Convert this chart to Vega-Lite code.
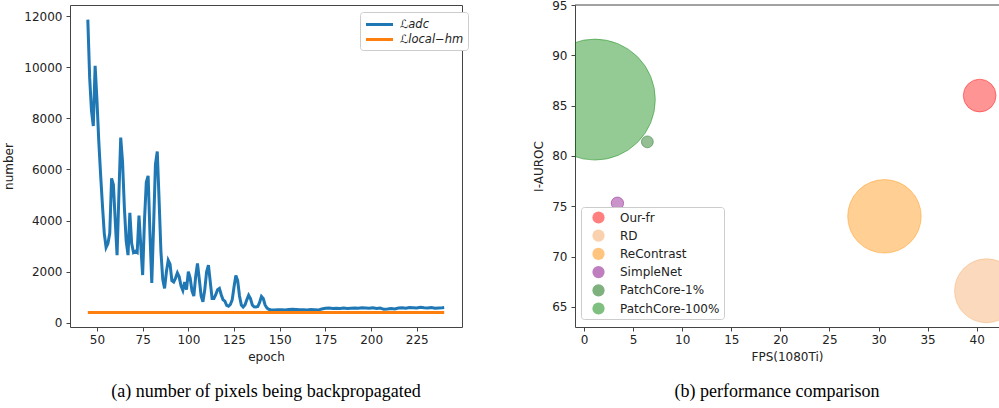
{
  "$schema": "https://vega.github.io/schema/vega-lite/v6.json",
  "background": "white",
  "padding": {"left": 2, "top": -1, "right": 0, "bottom": 0},
  "spacing": 69,
  "config": {
    "view": {"stroke": "#444", "strokeWidth": 1},
    "axis": {"grid": false, "domain": false, "tickColor": "#444", "tickSize": 4, "labelFont": "DejaVu Sans", "labelFontSize": 12, "labelColor": "#222", "titleFont": "DejaVu Sans", "titleFontSize": 12, "titleFontWeight": "normal", "titleColor": "#222", "labelPadding": 3},
    "legend": {"labelFont": "DejaVu Sans", "labelFontSize": 12, "labelColor": "#222"},
    "title": {"font": "Liberation Serif", "fontSize": 18, "fontWeight": "normal", "color": "black"}
  },
  "hconcat": [
    {
      "width": 392,
      "height": 322,
      "title": {"text": "(a) number of pixels being backpropagated", "orient": "bottom", "offset": 21},
      "data": {"values": [
        {"epoch": 45, "adc": 11860, "local_hm": 410},
        {"epoch": 46, "adc": 9600, "local_hm": 410},
        {"epoch": 47, "adc": 8300, "local_hm": 410},
        {"epoch": 48, "adc": 7700, "local_hm": 410},
        {"epoch": 49, "adc": 10050, "local_hm": 410},
        {"epoch": 50, "adc": 8700, "local_hm": 410},
        {"epoch": 51, "adc": 7100, "local_hm": 410},
        {"epoch": 52, "adc": 5800, "local_hm": 410},
        {"epoch": 53, "adc": 4600, "local_hm": 410},
        {"epoch": 54, "adc": 3500, "local_hm": 410},
        {"epoch": 55, "adc": 2950, "local_hm": 410},
        {"epoch": 56, "adc": 3100, "local_hm": 410},
        {"epoch": 57, "adc": 3500, "local_hm": 410},
        {"epoch": 58, "adc": 5650, "local_hm": 410},
        {"epoch": 59, "adc": 5400, "local_hm": 410},
        {"epoch": 60, "adc": 4000, "local_hm": 410},
        {"epoch": 61, "adc": 2650, "local_hm": 410},
        {"epoch": 62, "adc": 5000, "local_hm": 410},
        {"epoch": 63, "adc": 7250, "local_hm": 410},
        {"epoch": 64, "adc": 6300, "local_hm": 410},
        {"epoch": 65, "adc": 4500, "local_hm": 410},
        {"epoch": 66, "adc": 3200, "local_hm": 410},
        {"epoch": 67, "adc": 2650, "local_hm": 410},
        {"epoch": 68, "adc": 4300, "local_hm": 410},
        {"epoch": 69, "adc": 3100, "local_hm": 410},
        {"epoch": 70, "adc": 2750, "local_hm": 410},
        {"epoch": 71, "adc": 2800, "local_hm": 410},
        {"epoch": 72, "adc": 2750, "local_hm": 410},
        {"epoch": 73, "adc": 4200, "local_hm": 410},
        {"epoch": 74, "adc": 3000, "local_hm": 410},
        {"epoch": 75, "adc": 1870, "local_hm": 410},
        {"epoch": 76, "adc": 4000, "local_hm": 410},
        {"epoch": 77, "adc": 5500, "local_hm": 410},
        {"epoch": 78, "adc": 5750, "local_hm": 410},
        {"epoch": 79, "adc": 3500, "local_hm": 410},
        {"epoch": 80, "adc": 1560, "local_hm": 410},
        {"epoch": 81, "adc": 3800, "local_hm": 410},
        {"epoch": 82, "adc": 6200, "local_hm": 410},
        {"epoch": 83, "adc": 6700, "local_hm": 410},
        {"epoch": 84, "adc": 4800, "local_hm": 410},
        {"epoch": 85, "adc": 2800, "local_hm": 410},
        {"epoch": 86, "adc": 1700, "local_hm": 410},
        {"epoch": 87, "adc": 1350, "local_hm": 410},
        {"epoch": 88, "adc": 2000, "local_hm": 410},
        {"epoch": 89, "adc": 2450, "local_hm": 410},
        {"epoch": 90, "adc": 2300, "local_hm": 410},
        {"epoch": 91, "adc": 1650, "local_hm": 410},
        {"epoch": 92, "adc": 1600, "local_hm": 410},
        {"epoch": 93, "adc": 1750, "local_hm": 410},
        {"epoch": 94, "adc": 1950, "local_hm": 410},
        {"epoch": 95, "adc": 1800, "local_hm": 410},
        {"epoch": 96, "adc": 1450, "local_hm": 410},
        {"epoch": 97, "adc": 1270, "local_hm": 410},
        {"epoch": 98, "adc": 1600, "local_hm": 410},
        {"epoch": 99, "adc": 1300, "local_hm": 410},
        {"epoch": 100, "adc": 2000, "local_hm": 410},
        {"epoch": 101, "adc": 1750, "local_hm": 410},
        {"epoch": 102, "adc": 1250, "local_hm": 410},
        {"epoch": 103, "adc": 1050, "local_hm": 410},
        {"epoch": 104, "adc": 1800, "local_hm": 410},
        {"epoch": 105, "adc": 2320, "local_hm": 410},
        {"epoch": 106, "adc": 1700, "local_hm": 410},
        {"epoch": 107, "adc": 1050, "local_hm": 410},
        {"epoch": 108, "adc": 820, "local_hm": 410},
        {"epoch": 109, "adc": 1300, "local_hm": 410},
        {"epoch": 110, "adc": 2000, "local_hm": 410},
        {"epoch": 111, "adc": 2260, "local_hm": 410},
        {"epoch": 112, "adc": 1600, "local_hm": 410},
        {"epoch": 113, "adc": 950, "local_hm": 410},
        {"epoch": 114, "adc": 950, "local_hm": 410},
        {"epoch": 115, "adc": 1100, "local_hm": 410},
        {"epoch": 116, "adc": 1300, "local_hm": 410},
        {"epoch": 117, "adc": 1350, "local_hm": 410},
        {"epoch": 118, "adc": 1100, "local_hm": 410},
        {"epoch": 119, "adc": 900, "local_hm": 410},
        {"epoch": 120, "adc": 850, "local_hm": 410},
        {"epoch": 121, "adc": 680, "local_hm": 410},
        {"epoch": 122, "adc": 650, "local_hm": 410},
        {"epoch": 123, "adc": 720, "local_hm": 410},
        {"epoch": 124, "adc": 900, "local_hm": 410},
        {"epoch": 125, "adc": 1400, "local_hm": 410},
        {"epoch": 126, "adc": 1850, "local_hm": 410},
        {"epoch": 127, "adc": 1650, "local_hm": 410},
        {"epoch": 128, "adc": 1050, "local_hm": 410},
        {"epoch": 129, "adc": 700, "local_hm": 410},
        {"epoch": 130, "adc": 620, "local_hm": 410},
        {"epoch": 131, "adc": 700, "local_hm": 410},
        {"epoch": 132, "adc": 900, "local_hm": 410},
        {"epoch": 133, "adc": 1080, "local_hm": 410},
        {"epoch": 134, "adc": 950, "local_hm": 410},
        {"epoch": 135, "adc": 700, "local_hm": 410},
        {"epoch": 136, "adc": 630, "local_hm": 410},
        {"epoch": 137, "adc": 620, "local_hm": 410},
        {"epoch": 138, "adc": 640, "local_hm": 410},
        {"epoch": 139, "adc": 800, "local_hm": 410},
        {"epoch": 140, "adc": 1030, "local_hm": 410},
        {"epoch": 141, "adc": 950, "local_hm": 410},
        {"epoch": 142, "adc": 700, "local_hm": 410},
        {"epoch": 143, "adc": 580, "local_hm": 410},
        {"epoch": 144, "adc": 530, "local_hm": 410},
        {"epoch": 145, "adc": 510, "local_hm": 410},
        {"epoch": 147, "adc": 500, "local_hm": 410},
        {"epoch": 149, "adc": 510, "local_hm": 410},
        {"epoch": 151, "adc": 515, "local_hm": 410},
        {"epoch": 153, "adc": 505, "local_hm": 410},
        {"epoch": 155, "adc": 520, "local_hm": 410},
        {"epoch": 157, "adc": 530, "local_hm": 410},
        {"epoch": 159, "adc": 520, "local_hm": 410},
        {"epoch": 161, "adc": 510, "local_hm": 410},
        {"epoch": 163, "adc": 515, "local_hm": 410},
        {"epoch": 165, "adc": 505, "local_hm": 410},
        {"epoch": 167, "adc": 520, "local_hm": 410},
        {"epoch": 169, "adc": 510, "local_hm": 410},
        {"epoch": 171, "adc": 500, "local_hm": 410},
        {"epoch": 173, "adc": 540, "local_hm": 410},
        {"epoch": 175, "adc": 570, "local_hm": 410},
        {"epoch": 177, "adc": 580, "local_hm": 410},
        {"epoch": 179, "adc": 560, "local_hm": 410},
        {"epoch": 181, "adc": 575, "local_hm": 410},
        {"epoch": 183, "adc": 560, "local_hm": 410},
        {"epoch": 185, "adc": 580, "local_hm": 410},
        {"epoch": 187, "adc": 565, "local_hm": 410},
        {"epoch": 189, "adc": 575, "local_hm": 410},
        {"epoch": 191, "adc": 585, "local_hm": 410},
        {"epoch": 193, "adc": 570, "local_hm": 410},
        {"epoch": 195, "adc": 590, "local_hm": 410},
        {"epoch": 197, "adc": 580, "local_hm": 410},
        {"epoch": 199, "adc": 570, "local_hm": 410},
        {"epoch": 201, "adc": 590, "local_hm": 410},
        {"epoch": 203, "adc": 560, "local_hm": 410},
        {"epoch": 205, "adc": 580, "local_hm": 410},
        {"epoch": 207, "adc": 530, "local_hm": 410},
        {"epoch": 209, "adc": 540, "local_hm": 410},
        {"epoch": 211, "adc": 560, "local_hm": 410},
        {"epoch": 213, "adc": 540, "local_hm": 410},
        {"epoch": 215, "adc": 580, "local_hm": 410},
        {"epoch": 217, "adc": 590, "local_hm": 410},
        {"epoch": 219, "adc": 570, "local_hm": 410},
        {"epoch": 221, "adc": 600, "local_hm": 410},
        {"epoch": 223, "adc": 590, "local_hm": 410},
        {"epoch": 225, "adc": 580, "local_hm": 410},
        {"epoch": 227, "adc": 610, "local_hm": 410},
        {"epoch": 229, "adc": 590, "local_hm": 410},
        {"epoch": 231, "adc": 580, "local_hm": 410},
        {"epoch": 233, "adc": 600, "local_hm": 410},
        {"epoch": 235, "adc": 570, "local_hm": 410},
        {"epoch": 237, "adc": 580, "local_hm": 410},
        {"epoch": 239, "adc": 590, "local_hm": 410},
        {"epoch": 240, "adc": 600, "local_hm": 410}
      ]},
      "transform": [{"fold": ["adc", "local_hm"], "as": ["series", "value"]}],
      "mark": {"type": "line", "strokeWidth": 3, "clip": true},
      "encoding": {
        "x": {"field": "epoch", "type": "quantitative", "scale": {"domain": [35.25, 249.75], "nice": false, "zero": false}, "axis": {"values": [50, 75, 100, 125, 150, 175, 200, 225], "title": "epoch", "titlePadding": 6}},
        "y": {"field": "value", "type": "quantitative", "scale": {"domain": [-162, 12432], "nice": false, "zero": false}, "axis": {"values": [0, 2000, 4000, 6000, 8000, 10000, 12000], "format": "d", "title": "number", "titlePadding": 8, "labelPadding": 4}},
        "color": {"field": "series", "type": "nominal", "sort": null, "scale": {"domain": ["adc", "local_hm"], "range": ["#1f77b4", "#ff7f0e"]},
          "legend": {"title": null, "orient": "none", "legendX": 290, "legendY": 7, "symbolType": "M-2,0H2", "symbolSize": 182, "symbolStrokeWidth": 3, "symbolOffset": 7, "labelExpr": "datum.value == 'adc' ? 'ℒadc' : 'ℒlocal−hm'", "labelFontStyle": "italic", "labelFontSize": 11.5, "strokeColor": "#ccc", "fillColor": "white", "cornerRadius": 3, "padding": 4, "rowPadding": 0, "labelOffset": 12}}
      }
    },
    {
      "width": 424,
      "height": 322,
      "view": {"stroke": null},
      "title": {"text": "(b) performance comparison", "orient": "bottom", "offset": 21, "dx": -10},
      "data": {"values": [
        {"method": "Our-fr", "fps": 40.3, "auroc": 86.0, "bubble": 34.2},
        {"method": "RD", "fps": 41.0, "auroc": 66.6, "bubble": 130},
        {"method": "ReContrast", "fps": 30.6, "auroc": 74.0, "bubble": 172},
        {"method": "SimpleNet", "fps": 3.4, "auroc": 75.3, "bubble": 4.9},
        {"method": "PatchCore-1%", "fps": 6.45, "auroc": 81.4, "bubble": 4.5},
        {"method": "PatchCore-100%", "fps": 1.1, "auroc": 85.6, "bubble": 466}
      ]},
      "layer": [
        {
          "mark": {"type": "circle", "clip": true, "fillOpacity": 0.42, "strokeOpacity": 0.42, "strokeWidth": 1},
          "encoding": {
            "x": {"field": "fps", "type": "quantitative", "scale": {"domain": [-0.92, 42.27], "nice": false, "zero": false}, "axis": {"values": [0, 5, 10, 15, 20, 25, 30, 35, 40], "title": "FPS(1080Ti)", "titlePadding": 6, "domain": true, "domainColor": "#444"}},
            "y": {"field": "auroc", "type": "quantitative", "scale": {"domain": [63, 95], "nice": false, "zero": false}, "axis": {"values": [65, 70, 75, 80, 85, 90, 95], "title": "I-AUROC", "titlePadding": 6, "labelPadding": 4, "domain": true, "domainColor": "#444"}},
            "size": {"field": "bubble", "type": "quantitative", "scale": {"type": "linear", "domain": [0, 100], "range": [0, 3141.6], "zero": true}, "legend": null},
            "fill": {"field": "method", "type": "nominal", "sort": null, "scale": {"domain": ["Our-fr", "RD", "ReContrast", "SimpleNet", "PatchCore-1%", "PatchCore-100%"], "range": ["#ff0000", "#f4a460", "#ff8c00", "#800080", "#006400", "#008000"]},
              "legend": {"title": null, "orient": "none", "legendX": 511, "legendY": 202, "symbolType": "circle", "symbolSize": 150, "symbolOpacity": 0.5, "symbolStrokeWidth": 0, "strokeColor": "#ccc", "fillColor": "white", "cornerRadius": 3, "padding": 4, "rowPadding": 5.2, "symbolOffset": 7, "labelOffset": 15}},
            "stroke": {"field": "method", "type": "nominal", "sort": null, "scale": {"domain": ["Our-fr", "RD", "ReContrast", "SimpleNet", "PatchCore-1%", "PatchCore-100%"], "range": ["#ff0000", "#f4a460", "#ff8c00", "#800080", "#006400", "#008000"]}, "legend": null}
          }
        },
        {
          "data": {"values": [{"top": 95}]},
          "mark": {"type": "rule", "color": "#444", "strokeWidth": 1},
          "encoding": {"y": {"field": "top", "type": "quantitative"}}
        }
      ]
    }
  ]
}
